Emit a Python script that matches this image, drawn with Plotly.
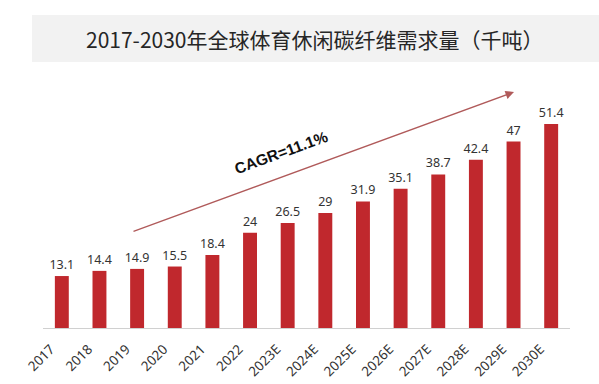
import plotly.graph_objects as go

categories = ["2017", "2018", "2019", "2020", "2021", "2022", "2023E", "2024E",
              "2025E", "2026E", "2027E", "2028E", "2029E", "2030E"]
values = [13.1, 14.4, 14.9, 15.5, 18.4, 24, 26.5, 29, 31.9, 35.1, 38.7, 42.4, 47, 51.4]
value_labels = ["13.1", "14.4", "14.9", "15.5", "18.4", "24", "26.5", "29",
                "31.9", "35.1", "38.7", "42.4", "47", "51.4"]
title_text = "2017-2030年全球体育休闲碳纤维需求量（千吨）"
cagr_text = "CAGR=11.1%"

W, H = 599, 384
L, R, T, B = 43, 29, 90, 56
pw, ph = W - L - R, H - T - B


def px_x(px):
    return (px - L) / pw


def px_y(py):
    return (H - B - py) / ph


fig = go.Figure()
fig.add_trace(go.Bar(
    x=categories, y=values,
    marker=dict(color="#C0282D", line=dict(width=0)),
    width=0.37,
    text=value_labels, textposition="outside", constraintext="none",
    textfont=dict(family="Noto Sans, sans-serif", size=12.5, color="#333333"),
    outsidetextfont=dict(family="Noto Sans, sans-serif", size=12.5, color="#333333"),
    cliponaxis=False, hoverinfo="skip",
))

fig.update_layout(
    width=W, height=H,
    margin=dict(l=L, r=R, t=T, b=B, autoexpand=False),
    paper_bgcolor="white", plot_bgcolor="white",
    showlegend=False,
    uniformtext=dict(mode=False),
    xaxis=dict(
        type="category", tickangle=-45, automargin=False,
        showline=True, linecolor="#d0d0d0", linewidth=1,
        ticks="", showgrid=False, ticklabelstandoff=7, ticklabelshift=-11,
        tickfont=dict(family="Noto Sans, sans-serif", size=13.5, color="#333333"),
    ),
    yaxis=dict(range=[0, 60], visible=False, showgrid=False, zeroline=False,
               automargin=False),
    shapes=[dict(
        type="rect", xref="paper", yref="paper",
        x0=px_x(32), x1=px_x(605), y0=px_y(62), y1=px_y(15),
        fillcolor="#f2f2f2", line=dict(width=0), layer="below",
    )],
    annotations=[
        dict(
            xref="paper", yref="paper", x=px_x(315), y=px_y(39),
            text=title_text, showarrow=False,
            font=dict(family="Noto Sans CJK SC, sans-serif", size=21, color="#262626"),
            xanchor="center", yanchor="middle",
        ),
        dict(
            xref="x domain", yref="y domain", axref="x domain", ayref="y domain",
            x=px_x(514), y=px_y(92), ax=px_x(132), ay=px_y(232),
            text="", showarrow=True, arrowhead=2, arrowsize=1.3, arrowwidth=1.3,
            arrowcolor="#b05a5a", standoff=0, startstandoff=0,
        ),
        dict(
            xref="paper", yref="paper", x=px_x(281), y=px_y(152),
            text="<b>" + cagr_text + "</b>", showarrow=False, textangle=-20,
            font=dict(family="Liberation Sans, Arial, sans-serif", size=15.5, color="#111111"),
            xanchor="center", yanchor="middle",
        ),
    ],
)

fig.write_html("out.html", config={"displayModeBar": False},
               post_script="document.body.style.margin='0';")
